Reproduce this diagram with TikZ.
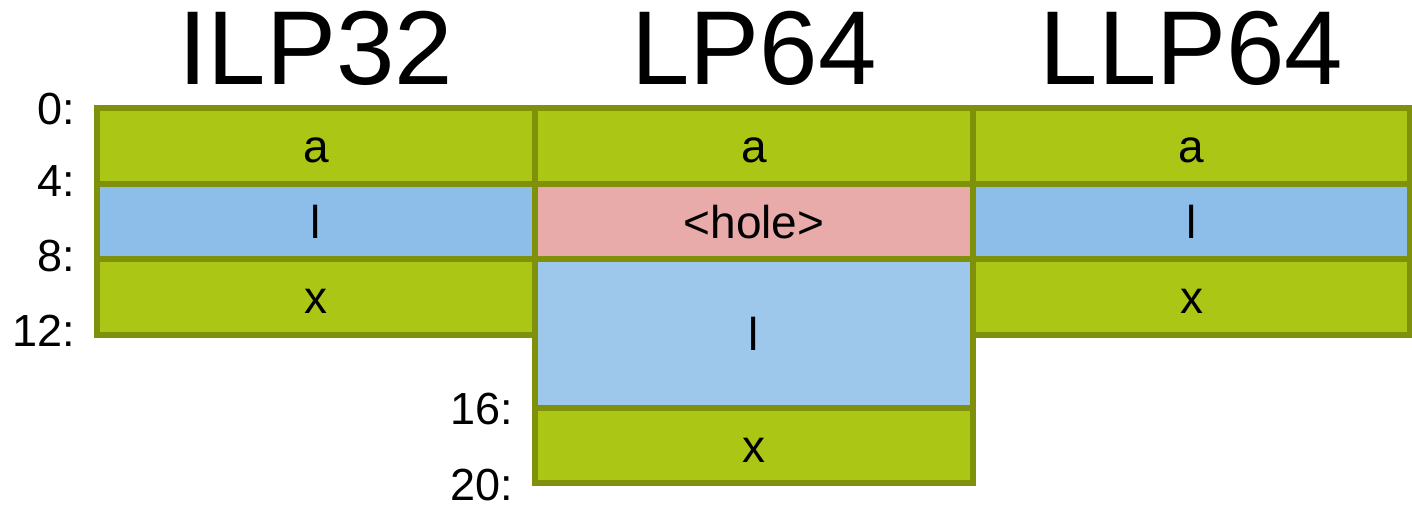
\documentclass[tikz,border=0pt]{standalone}
\usepackage{fontspec}
\setmainfont{Liberation Sans}

\definecolor{fieldgreen}{HTML}{ACC615}
\definecolor{fieldedge}{HTML}{7F910A}
\definecolor{fieldblue}{HTML}{8CBEE9}
\definecolor{fieldlight}{HTML}{9DC8EC}
\definecolor{fieldhole}{HTML}{E9AAAA}

\begin{document}
\begin{tikzpicture}[x=1pt, y=-1pt,
  every node/.style = {inner sep=0pt, outer sep=0pt},
  field/.style = {draw=fieldedge, line width=5.5pt, rectangle, minimum width=438pt,
                  font=\fontsize{46}{52}\selectfont, text height=33pt, text depth=0pt},
  intf/.style  = {field, fill=fieldgreen},
  longf/.style = {field, fill=fieldblue},
  hole/.style  = {field, fill=fieldhole},
  title/.style = {anchor=base, font=\fontsize{105}{110}\selectfont},
  offset/.style = {anchor=east, font=\fontsize{45}{50}\selectfont},
  ]
  \useasboundingbox (0,0) rectangle (1412,508);

  % ILP32
  \node[intf,  minimum height=76pt] (ilpA) at (316,146)   {a};
  \node[longf, minimum height=75pt] (ilpL) at (316,221.5) {l};
  \node[intf,  minimum height=76pt] (ilpX) at (316,297)   {x};

  % LP64
  \node[intf,  minimum height=76pt] (lpA) at (754,146)   {a};
  \node[hole,  minimum height=75pt] (lpHole) at (754,221.5) {<hole>};
  \node[longf, fill=fieldlight, minimum height=149pt] (lpL) at (754,333.5) {l};
  \node[intf,  minimum height=75pt] (lpX) at (754,445.5) {x};

  % LLP64
  \node[intf,  minimum height=76pt, minimum width=437pt] (llpA) at (1191.5,146)   {a};
  \node[longf, minimum height=75pt, minimum width=437pt] (llpL) at (1191.5,221.5) {l};
  \node[intf,  minimum height=76pt, minimum width=437pt] (llpX) at (1191.5,297)   {x};

  % titles
  \node[title] (tILP) at (316,85)    {ILP32};
  \node[title] (tLP)  at (754,85)    {LP64};
  \node[title] (tLLP) at (1191.5,85) {LLP64};

  % byte offsets
  \node[offset] (o0)  at (75,109) {0:};
  \node[offset] (o4)  at (75,181) {4:};
  \node[offset] (o8)  at (75,256) {8:};
  \node[offset] (o12) at (75,331) {12:};
  \node[offset] (o16) at (513,409) {16:};
  \node[offset] (o20) at (513,485) {20:};
\end{tikzpicture}
\end{document}
